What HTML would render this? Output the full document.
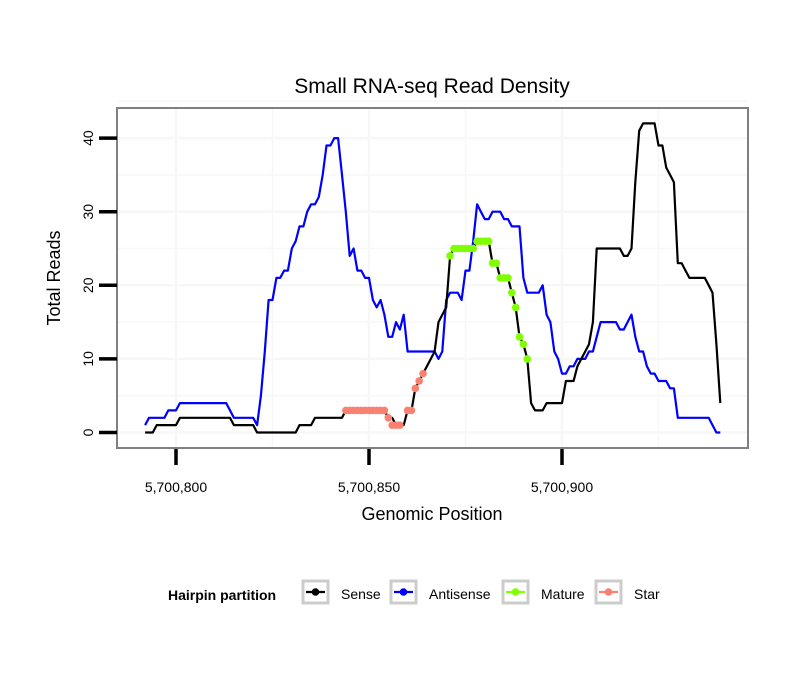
<!DOCTYPE html>
<html><head><meta charset="utf-8"><style>
body{margin:0;background:#fff;font-family:"Liberation Sans",sans-serif}
svg{display:block}
</style></head><body>
<svg id="c" width="810" height="690" xmlns="http://www.w3.org/2000/svg">
<rect width="810" height="690" fill="#fff"/>
<text x="432" y="93" text-anchor="middle" font-size="21" fill="#000">Small RNA-seq Read Density</text>
<g id="grid"></g>
<g id="marks"></g>
<rect x="117" y="108" width="631" height="340" fill="none" stroke="#808080" stroke-width="2"/>
<g id="axes"></g>
<text x="432" y="520" text-anchor="middle" font-size="18">Genomic Position</text>
<text transform="translate(60,278) rotate(-90)" text-anchor="middle" font-size="18">Total Reads</text>
<g>
<text x="168" y="600" font-size="14" font-weight="bold">Hairpin partition</text>
<g id="legend"></g>
</g>
</svg>
<script>
const positions=[];for(let p=792;p<=941;p++)positions.push(p);
const senseVals=[0,0,0,1,1,1,1,1,1,2,2,2,2,2,2,2,2,2,2,2,2,2,2,1,1,1,1,1,1,0,0,0,0,0,0,0,0,0,0,0,1,1,1,1,2,2,2,2,2,2,2,2,3,3,3,3,3,3,3,3,3,3,3,2,2,1,1,1,3,3,6,7,8,9,10,11,15,16,17,24,25,25,25,25,25,25,26,26,26,26,23,23,21,21,21,19,17,13,12,10,4,3,3,3,4,4,4,4,4,7,7,7,9,10,11,12,15,25,25,25,25,25,25,25,24,24,25,34,41,42,42,42,42,39,39,36,35,34,23,23,22,21,21,21,21,21,20,19,12,4];
const antiVals=[1,2,2,2,2,2,3,3,3,4,4,4,4,4,4,4,4,4,4,4,4,4,3,2,2,2,2,2,2,1,5,11,18,18,21,21,22,22,25,26,28,28,30,31,31,32,35,39,39,40,40,35,30,24,25,22,22,21,21,18,17,18,16,13,13,15,14,16,11,11,11,11,11,11,11,11,10,11,18,19,19,19,18,22,22,26,31,30,29,29,30,30,30,29,29,28,28,28,21,19,19,19,19,20,16,15,11,10,8,8,9,9,10,10,10,11,11,13,15,15,15,15,15,14,14,15,16,13,11,11,9,8,8,7,7,7,6,6,2,2,2,2,2,2,2,2,2,1,0,0];
const starPos=[844,845,846,847,848,849,850,851,852,853,854,855,856,857,858,860,861,862,863,864];
const starVals=[3,3,3,3,3,3,3,3,3,3,3,2,1,1,1,3,3,6,7,8];
const maturePos=[871,872,873,874,875,876,877,878,879,880,881,882,883,884,885,886,887,888,889,890,891];
const matureVals=[24,25,25,25,25,25,25,26,26,26,26,23,23,21,21,21,19,17,13,12,10];
const yTicks=[0,10,20,30,40];
const xTicks=[5700800,5700850,5700900];
const xTickLabels=["5,700,800","5,700,850","5,700,900"];
const legendLabels=["Sense","Antisense","Mature","Star"];
const legendColors=["#000000","#0000ff","#7fff00","#fa8072"];
const NS="http://www.w3.org/2000/svg";
const X=p=>176+(p-800)*3.86;
const Y=v=>432.5-v*7.36;
function mk(t,a,parent){const e=document.createElementNS(NS,t);for(const k in a)e.setAttribute(k,a[k]);document.getElementById(parent).appendChild(e);return e;}
for(let v=0;v<=45;v+=5){const g=mk('line',{x1:118,x2:747,y1:Y(v),y2:Y(v),stroke:'#f7f7f7','stroke-width':v%10?1.5:2.5},'grid');

}
for(let p=800;p<=925;p+=25){const g=mk('line',{x1:X(p),x2:X(p),y1:109,y2:447,stroke:'#f7f7f7','stroke-width':p%50?1.5:2.5},'grid');

}
function line(xs,vs,color,name){const d=xs.map((p,i)=>(i?'L':'M')+X(p).toFixed(1)+','+Y(vs[i]).toFixed(1)).join('');
const e=mk('path',{d:d,fill:'none',stroke:color,'stroke-width':2.2,'stroke-linejoin':'round'},'marks');

}
line(positions,antiVals,'#0000ff','antisense-line');
line(positions,senseVals,'#000000','sense-line');
function pts(xs,vs,color,name){xs.forEach((p,i)=>{const c=mk('circle',{cx:X(p),cy:Y(vs[i]),r:3.8,fill:color},'marks');

});}
pts(starPos,starVals,'#fa8072','star-point');
pts(maturePos,matureVals,'#7fff00','mature-point');
yTicks.forEach(v=>{const t=mk('line',{x1:99,x2:117,y1:Y(v),y2:Y(v),stroke:'#000','stroke-width':3.5},'axes');


const l=mk('text',{transform:`translate(93,${Y(v)}) rotate(-90)`,'text-anchor':'middle','font-size':14},'axes');l.textContent=v;

});
xTicks.forEach((p,i)=>{const px=X(p-5700000);const t=mk('line',{x1:px,x2:px,y1:449,y2:465,stroke:'#000','stroke-width':3.5},'axes');


const l=mk('text',{x:px,y:492,'text-anchor':'middle','font-size':14},'axes');l.textContent=xTickLabels[i];

});
const bx=[303,391,503,596];
legendLabels.forEach((n,i)=>{const x=bx[i];
const r=mk('rect',{x:x,y:581,width:25,height:22,fill:'#fff',stroke:'#cccccc','stroke-width':3},'legend');


mk('line',{x1:x+3,x2:x+22,y1:592,y2:592,stroke:legendColors[i],'stroke-width':2.2},'legend');
mk('circle',{cx:x+12.5,cy:592,r:3.8,fill:legendColors[i]},'legend');
const t=mk('text',{x:x+38,y:599,'font-size':14},'legend');t.textContent=n;

});
</script>
</body></html>
